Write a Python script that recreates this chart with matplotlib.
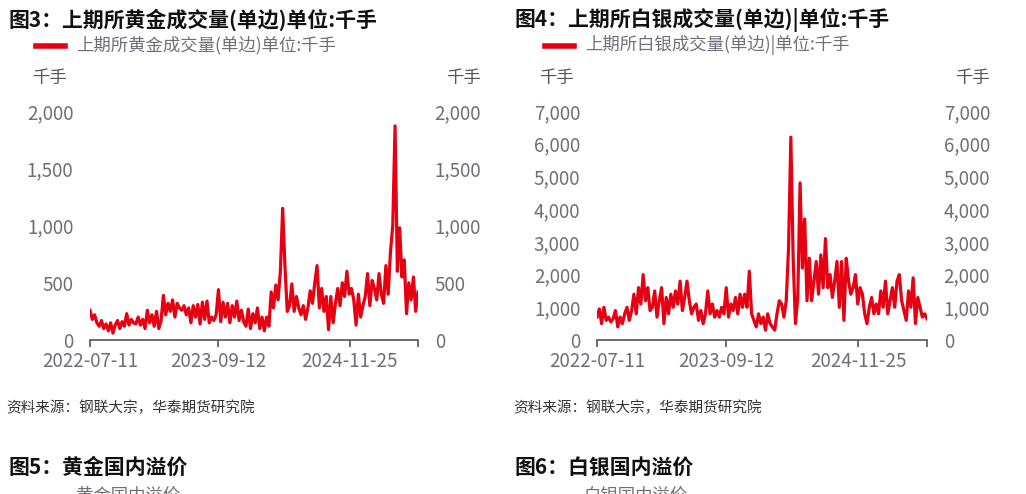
import matplotlib
matplotlib.use("Agg")
import matplotlib.pyplot as plt
import matplotlib.ticker as mticker
import numpy as np
import pandas as pd

plt.rcParams["font.family"] = ["Noto Sans CJK SC", "DejaVu Sans"]

# 4 readings per month, 2022-07-11 .. 2025-07-11
gold = [
    260, 180, 220, 150, 120, 170, 100, 140, 80, 150, 60, 130, 170, 100, 160, 120,
    230, 130, 180, 150, 140, 200, 130, 180, 100, 260, 150, 220, 120, 250, 100, 170,
    390, 220, 320, 250, 350, 200, 320, 280, 260, 300, 220, 280, 150, 300, 200, 310,
    140, 330, 180, 340, 150, 200, 170, 220, 440, 160, 330, 200, 320, 150, 300, 200,
    340, 170, 260, 160, 120, 270, 100, 230, 150, 280, 100, 200, 80, 200, 120, 420,
    280, 480, 350, 600, 1150, 640, 250, 300, 490, 250, 380, 280, 220, 300, 180, 280,
    430, 320, 500, 650, 280, 450, 250, 380, 90, 380, 150, 320, 450, 300, 500, 380,
    600, 400, 450, 350, 130, 400, 200, 300, 380, 580, 300, 520, 450, 350, 580, 400,
    320, 650, 400, 770, 1000, 1870, 600, 980, 550, 700, 230, 500, 350, 550, 250, 420,
]
silver = [
    700, 950, 500, 1000, 600, 700, 550, 650, 900, 400, 700, 500, 800, 1000, 600, 900,
    1400, 800, 1600, 1100, 2000, 1200, 1600, 900, 1000, 1500, 700, 1200, 1600, 500, 1300, 800,
    1400, 1000, 1500, 1100, 1800, 900, 1300, 1800, 1200, 800, 1000, 1100, 600, 900, 500, 800,
    1500, 800, 1100, 700, 900, 700, 1000, 800, 1600, 700, 1100, 900, 1300, 800, 1400, 1000,
    1400, 1000, 2100, 800, 600, 400, 800, 500, 700, 300, 800, 500, 400, 300, 800, 1200,
    1100, 700, 1200, 2800, 6200, 2500, 500, 1300, 4800, 2200, 3700, 1200, 2500, 1200, 1800, 2400,
    1400, 2600, 1600, 3100, 1600, 2000, 1300, 1800, 2400, 1000, 2400, 600, 2500, 1800, 1400, 1600,
    2000, 1100, 1600, 1400, 800, 500, 1000, 1300, 800, 1100, 800, 1500, 1000, 1800, 800, 1200,
    1600, 1000, 1800, 2000, 1200, 900, 600, 1500, 1000, 1900, 500, 1300, 1000, 700, 800, 650,
]
start, end = pd.Timestamp("2022-07-11"), pd.Timestamp("2025-07-11")
tick_dates = ["2022-07-11", "2023-09-12", "2024-11-25"]

RED = "#E60012"
GREY = "#6E6E7A"
W, H = 1026, 494


def fx(px):
    return px / W


def fy(py):
    return 1 - py / H


fig = plt.figure(figsize=(W / 100, H / 100), dpi=100)

panels = [
    (90, 328, gold, 2000, 500, "图3：上期所黄金成交量(单边)单位:千手", "上期所黄金成交量(单边)单位:千手", 8, 36),
    (597, 330, silver, 7000, 1000, "图4：上期所白银成交量(单边)|单位:千手", "上期所白银成交量(单边)|单位:千手", 515, 545),
]
for left, width, vals, ymax, step, title, leg, tx, lx in panels:
    ax = fig.add_axes([fx(left), fy(340), fx(width), (340 - 111) / H])
    dates = pd.date_range(start, end, periods=len(vals))
    ax.plot(dates, vals, color=RED, lw=2.3)
    ax.set_xlim(start, end)
    ax.set_ylim(0, ymax)
    ax.yaxis.set_major_locator(mticker.MultipleLocator(step))
    ax.yaxis.set_major_formatter(mticker.FuncFormatter(lambda v, p: f"{int(v):,}"))
    ticks = [pd.Timestamp(d) for d in tick_dates] + [end]
    ax.set_xticks(ticks, tick_dates + [""])
    for s in ["top", "left", "right"]:
        ax.spines[s].set_visible(False)
    ax.spines["bottom"].set_color("#555555")
    ax.spines["bottom"].set_linewidth(1.2)
    ax.tick_params(axis="x", colors="#555555", length=5, width=1.2, labelsize=13.5,
                   labelcolor=GREY, pad=3)
    ax.tick_params(axis="y", length=0, labelsize=13.5, labelcolor=GREY, pad=12,
                   left=False, right=False, labelleft=True, labelright=True)
    fig.text(fx(tx), fy(20), title, fontsize=15, fontweight="bold", va="center", color="#111111")
    fig.add_artist(plt.Line2D([fx(lx), fx(lx + 29)], [fy(46), fy(46)], color=RED, lw=4))
    fig.text(fx(lx + 40), fy(45), leg, fontsize=12.5, va="center", color=GREY)
    fig.text(fx(left - 58), fy(78), "千手", fontsize=12.5, va="center", color="#555555")
    fig.text(fx(left + width + 28), fy(78), "千手", fontsize=12.5, va="center", color="#555555")
    fig.text(fx(tx - 2), fy(408), "资料来源：钢联大宗，华泰期货研究院", fontsize=10.5,
             style="italic", va="center", color="#333333")

fig.text(fx(8), fy(467), "图5：黄金国内溢价", fontsize=15, fontweight="bold", va="center", color="#111111")
fig.text(fx(515), fy(467), "图6：白银国内溢价", fontsize=15, fontweight="bold", va="center", color="#111111")
fig.text(fx(76), fy(496), "黄金国内溢价", fontsize=12.5, va="center", color=GREY)
fig.text(fx(583), fy(496), "白银国内溢价", fontsize=12.5, va="center", color=GREY)

fig.savefig("out.png", dpi=100)
